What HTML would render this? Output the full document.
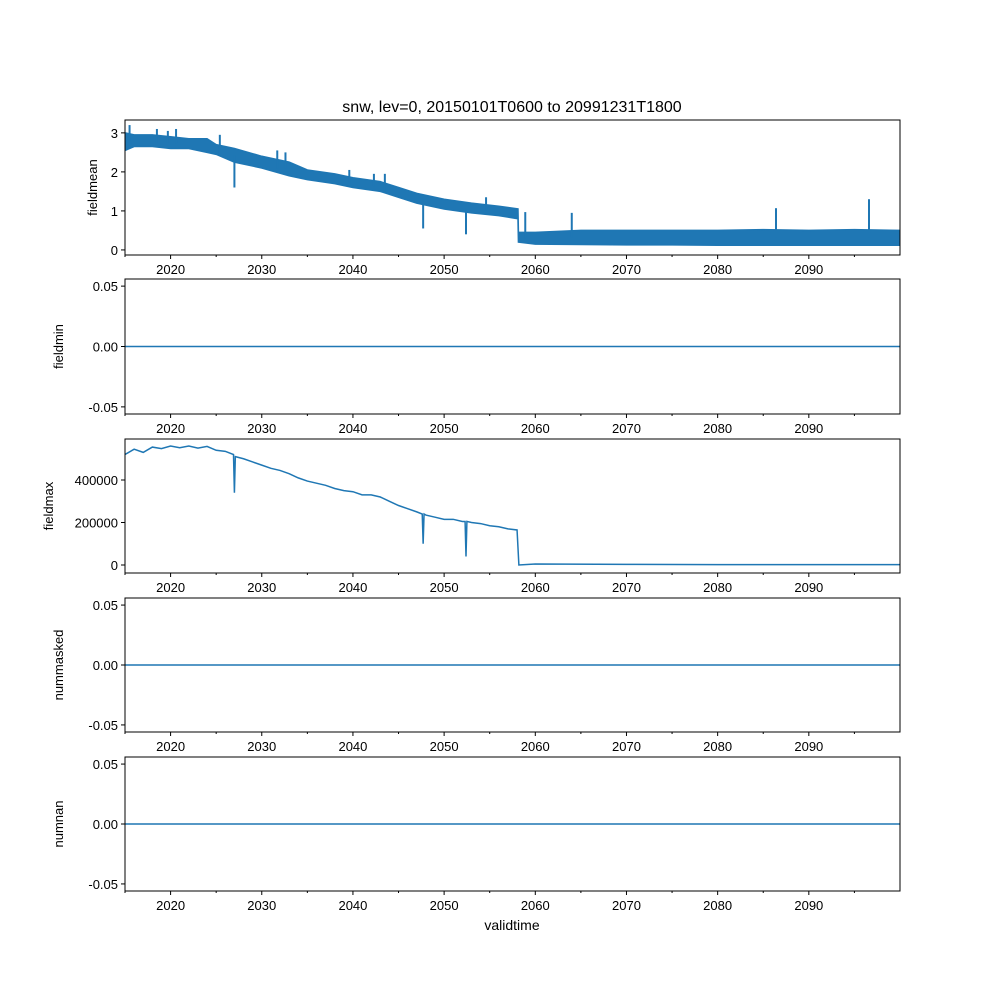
<!DOCTYPE html>
<html><head><meta charset="utf-8"><style>
body{margin:0;background:#fff}
svg text{font-family:"Liberation Sans",sans-serif;fill:#000}
</style></head><body>
<svg id="fig" width="1000" height="1000" viewBox="0 0 1000 1000" xmlns="http://www.w3.org/2000/svg">
<rect width="1000" height="1000" fill="#fff"/>
<text x="512" y="112" font-size="16" text-anchor="middle">snw, lev=0, 20150101T0600 to 20991231T1800</text>
<text x="512" y="930" font-size="14" text-anchor="middle">validtime</text>
</svg>
<script>
// ---- data ----
const envYears = [2015,2016,2018,2020,2022,2024,2025,2027,2030,2033,2035,2038,2040,2043,2045,2047,2050,2053,2056,2058.1,2058.15,2060,2065,2070,2075,2080,2085,2090,2095,2099.99];
const envLow  = [2.55,2.65,2.65,2.6,2.6,2.5,2.45,2.25,2.1,1.9,1.8,1.7,1.6,1.5,1.35,1.2,1.05,0.95,0.88,0.8,0.2,0.15,0.14,0.13,0.13,0.12,0.12,0.12,0.12,0.12];
const envHigh = [3.0,2.95,2.95,2.9,2.85,2.85,2.7,2.6,2.4,2.25,2.05,1.95,1.85,1.75,1.6,1.45,1.3,1.2,1.12,1.05,0.45,0.45,0.5,0.5,0.5,0.5,0.52,0.5,0.52,0.5];
const spikeYears = [2015.5,2018.5,2019.7,2020.6,2025.4,2027.0,2031.7,2032.6,2039.6,2042.3,2043.5,2047.7,2052.4,2054.6,2058.9,2064.0,2086.4,2096.6];
const spikeVals  = [3.2,3.1,3.05,3.1,2.95,1.6,2.55,2.5,2.05,1.95,1.95,0.55,0.4,1.35,0.97,0.95,1.07,1.3];
const maxYears = [2015,2016,2017,2018,2019,2020,2021,2022,2023,2024,2025,2026,2026.9,2027.0,2027.1,2028,2029,2030,2031,2032,2033,2034,2035,2036,2037,2038,2039,2040,2041,2042,2043,2044,2045,2046,2047,2047.6,2047.7,2047.8,2048,2049,2050,2051,2052,2052.3,2052.4,2052.5,2053,2054,2055,2056,2057,2058,2058.2,2060,2070,2080,2090,2099.99];
const maxVals  = [520000,545000,530000,555000,548000,560000,552000,560000,550000,558000,540000,535000,520000,340000,510000,500000,485000,470000,455000,445000,430000,410000,395000,385000,375000,360000,350000,345000,330000,330000,320000,300000,280000,265000,250000,240000,100000,240000,235000,225000,215000,215000,205000,205000,40000,205000,200000,195000,185000,180000,170000,165000,0,5000,3000,2000,2000,2000];
const xTicks = [2020,2030,2040,2050,2060,2070,2080,2090];
const minorTicks = [2015,2025,2035,2045,2055,2065,2075,2085,2095];

const svg=document.getElementById('fig');
const NS='http://www.w3.org/2000/svg';
const X0=125,X1=900;
const xs=y=>X0+(y-2015)/(2100-2015)*(X1-X0);
function el(tag,attrs,parent){const e=document.createElementNS(NS,tag);for(const k in attrs)e.setAttribute(k,attrs[k]);(parent||svg).appendChild(e);return e;}
const C='#1f77b4';
const panels=[
 {name:'fieldmean',top:120,bot:255,lo:-0.13,hi:3.33,ticks:[0,1,2,3],fmt:v=>String(v),lx:89},
 {name:'fieldmin',top:279,bot:414,lo:-0.0559,hi:0.0559,ticks:[-0.05,0,0.05],fmt:v=>v.toFixed(2),lx:55},
 {name:'fieldmax',top:439,bot:573,lo:-37600,hi:593000,ticks:[0,200000,400000],fmt:v=>String(v),lx:45},
 {name:'nummasked',top:598,bot:732,lo:-0.0559,hi:0.0559,ticks:[-0.05,0,0.05],fmt:v=>v.toFixed(2),lx:55},
 {name:'numnan',top:757,bot:891,lo:-0.0559,hi:0.0559,ticks:[-0.05,0,0.05],fmt:v=>v.toFixed(2),lx:55}
];
panels.forEach((p,i)=>{
 const g=el('g',{});
 
 
 const ys=v=>p.bot-(v-p.lo)/(p.hi-p.lo)*(p.bot-p.top);
 el('defs',{},g).innerHTML=`<clipPath id="c${i}"><rect x="${X0}" y="${p.top}" width="${X1-X0}" height="${p.bot-p.top}"/></clipPath>`;
 const d=el('g',{'clip-path':`url(#c${i})`},g);
 if(i===0){
  let pts=envYears.map((y,k)=>xs(y)+','+ys(envHigh[k]));
  for(let k=envYears.length-1;k>=0;k--)pts.push(xs(envYears[k])+','+ys(envLow[k]));
  const band=el('polygon',{points:pts.join(' '),fill:C,stroke:C,'stroke-width':1.5},d);
  
  
  spikeYears.forEach((y,k)=>{
   const j=envYears.findIndex(e=>e>=y);const mid=(envLow[j]+envHigh[j])/2;
   const s=el('line',{x1:xs(y),x2:xs(y),y1:ys(mid),y2:ys(spikeVals[k]),stroke:C,'stroke-width':2},d);
   
   
  });
 } else if(i===2){
  const l=el('polyline',{points:maxYears.map((y,k)=>xs(y)+','+ys(maxVals[k])).join(' '),fill:'none',stroke:C,'stroke-width':1.5},d);
  
  
 } else {
  const l=el('line',{x1:X0,x2:X1,y1:ys(0),y2:ys(0),stroke:C,'stroke-width':1.5},d);
  
  
 }
 el('rect',{x:X0,y:p.top,width:X1-X0,height:p.bot-p.top,fill:'none',stroke:'#000','stroke-width':1},g);
 p.ticks.forEach(v=>{
  const y=ys(v);
  el('line',{x1:X0-4,x2:X0,y1:y,y2:y,stroke:'#000'},g);
  const t=el('text',{x:X0-7,y:y+5,'font-size':13,'text-anchor':'end'},g);t.textContent=p.fmt(v);
  
  
 });
 xTicks.forEach(v=>{
  const x=xs(v);
  el('line',{x1:x,x2:x,y1:p.bot,y2:p.bot+4,stroke:'#000'},g);
  const t=el('text',{x:x,y:p.bot+19,'font-size':13,'text-anchor':'middle'},g);t.textContent=v;
  
  
 });
 minorTicks.forEach(v=>{const x=xs(v);el('line',{x1:x,x2:x,y1:p.bot,y2:p.bot+2,stroke:'#000'},g);});
 const mid=(p.top+p.bot)/2;
 const lab=el('text',{x:p.lx+8,y:mid,'font-size':13,'text-anchor':'middle',transform:`rotate(-90 ${p.lx+8} ${mid})`},g);
 lab.textContent=p.name;
 
 
});
</script>
</body></html>
